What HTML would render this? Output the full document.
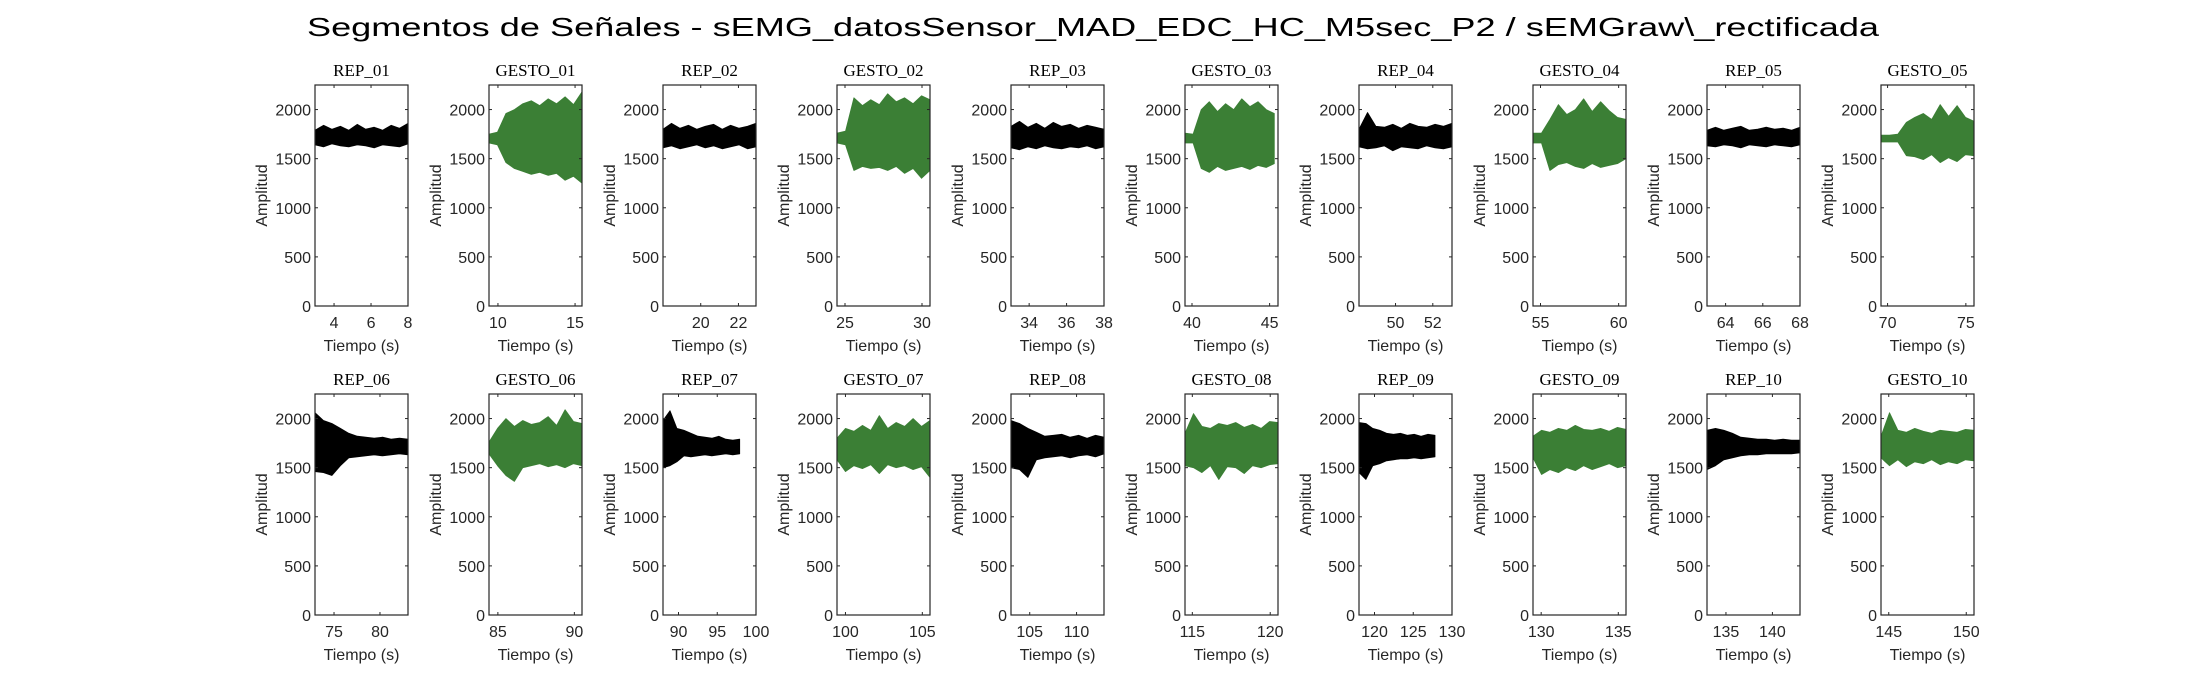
<!DOCTYPE html>
<html><head><meta charset="utf-8"><style>
html,body{margin:0;padding:0;background:#fff;}
svg{display:block;}
</style></head><body>
<svg id="fig" width="2187" height="688" xmlns="http://www.w3.org/2000/svg">
<text x="1093" y="36" text-anchor="middle" font-family="Liberation Sans, sans-serif" font-size="26" fill="#000" textLength="1572" lengthAdjust="spacingAndGlyphs">Segmentos de Señales - sEMG_datosSensor_MAD_EDC_HC_M5sec_P2 / sEMGraw\_rectificada</text>
</svg>
<script>
const panelTitles = ["REP_01","GESTO_01","REP_02","GESTO_02","REP_03","GESTO_03","REP_04","GESTO_04","REP_05","GESTO_05",
 "REP_06","GESTO_06","REP_07","GESTO_07","REP_08","GESTO_08","REP_09","GESTO_09","REP_10","GESTO_10"];
const xMins = [2.97,9.42,18.0,24.48,33.03,39.55,48.04,54.52,63.0,69.58, 72.93,84.42,88.0,99.45,103.0,114.53,118.0,129.47,132.96,144.5];
const xMaxs = [8,15.45,22.93,30.52,38,45.54,53.03,60.47,68,75.52, 83.05,90.5,100,105.5,112.93,120.5,130,135.5,142.97,150.5];
const xTicks = [[4,6,8],[10,15],[20,22],[25,30],[34,36,38],[40,45],[50,52],[55,60],[64,66,68],[70,75],
 [75,80],[85,90],[90,95,100],[100,105],[105,110],[115,120],[120,125,130],[130,135],[135,140],[145,150]];
const yTicks = [0,500,1000,1500,2000];
const dataStart = [2.97,9.42,18.0,24.48,33.03,39.55,48.04,54.52,63.0,69.58, 72.93,84.42,88.0,99.45,103.0,114.53,118.0,129.47,132.96,144.5];
const dataEnd = [8,15.45,22.93,30.52,38,45.3,53.03,60.47,68,75.52, 83.05,90.5,97.9,105.5,112.93,120.5,127.8,135.5,142.97,150.5];
const hiVals = [
 [1790,1840,1800,1830,1790,1850,1800,1820,1790,1840,1810,1860],
 [1750,1770,1960,2000,2060,2090,2040,2110,2060,2130,2050,2180],
 [1800,1860,1810,1840,1800,1830,1850,1800,1840,1810,1830,1860],
 [1760,1780,2120,2040,2100,2050,2160,2080,2120,2060,2140,2100],
 [1830,1880,1820,1860,1810,1870,1830,1850,1810,1840,1820,1800],
 [1760,1750,2000,2080,1980,2060,2000,2110,2030,2080,2000,1960],
 [1800,1970,1830,1820,1850,1810,1860,1830,1820,1850,1830,1860],
 [1760,1760,1900,2050,1950,2000,2110,1980,2080,1990,1920,1900],
 [1790,1820,1790,1810,1830,1790,1800,1820,1800,1810,1790,1820],
 [1740,1740,1750,1870,1920,1960,1900,2050,1930,2040,1920,1880],
 [2060,1980,1950,1900,1850,1820,1810,1800,1810,1790,1800,1790],
 [1760,1900,2000,1920,1980,1940,1960,2020,1930,2090,1970,1950],
 [1980,2080,1900,1880,1850,1820,1810,1800,1820,1790,1780,1790],
 [1800,1900,1870,1930,1880,2030,1900,1960,1920,2000,1920,1980],
 [1980,1950,1900,1860,1820,1830,1840,1810,1830,1800,1830,1810],
 [1850,2050,1920,1900,1950,1930,1960,1910,1940,1900,1970,1960],
 [1960,1950,1900,1880,1850,1840,1850,1830,1840,1820,1840,1830],
 [1820,1880,1860,1900,1880,1930,1890,1880,1900,1870,1910,1890],
 [1880,1900,1880,1850,1810,1800,1790,1790,1780,1790,1780,1780],
 [1820,2060,1880,1860,1900,1870,1850,1880,1870,1860,1890,1880]];
const loVals = [
 [1640,1620,1650,1630,1620,1640,1630,1610,1640,1630,1620,1650],
 [1660,1640,1460,1400,1370,1340,1360,1330,1350,1280,1320,1250],
 [1610,1630,1600,1620,1640,1610,1630,1600,1620,1640,1600,1620],
 [1660,1640,1380,1420,1400,1410,1380,1420,1350,1400,1300,1380],
 [1610,1590,1620,1600,1630,1610,1600,1620,1610,1630,1600,1620],
 [1660,1660,1400,1360,1420,1380,1400,1420,1390,1430,1410,1450],
 [1620,1600,1610,1630,1580,1620,1610,1600,1630,1610,1600,1620],
 [1660,1660,1380,1440,1460,1420,1400,1450,1410,1430,1450,1500],
 [1630,1620,1640,1630,1610,1640,1630,1620,1640,1630,1620,1640],
 [1670,1670,1670,1530,1520,1490,1540,1460,1510,1470,1540,1530],
 [1460,1450,1420,1520,1600,1610,1620,1630,1620,1630,1640,1630],
 [1640,1520,1420,1360,1500,1520,1540,1510,1530,1500,1540,1520],
 [1500,1520,1560,1620,1610,1620,1630,1620,1630,1640,1630,1640],
 [1580,1460,1520,1490,1530,1440,1530,1500,1520,1480,1510,1400],
 [1500,1480,1400,1580,1600,1610,1620,1600,1620,1630,1610,1640],
 [1520,1500,1450,1520,1380,1510,1500,1440,1520,1500,1530,1540],
 [1450,1380,1520,1540,1570,1580,1590,1590,1600,1590,1600,1610],
 [1600,1430,1480,1450,1500,1470,1520,1480,1510,1540,1500,1520],
 [1480,1520,1580,1600,1620,1630,1630,1640,1640,1640,1640,1650],
 [1600,1520,1580,1510,1560,1540,1580,1530,1560,1540,1580,1570]];

const NS = "http://www.w3.org/2000/svg";
const svg = document.getElementById('fig');
const Y_MAX = 2250, PW = 93, PH = 221;
const colLeft = c => 315 + c * 174;
const rowTop = r => r === 0 ? 85 : 394;
function mk(tag, attrs, parent){ const e = document.createElementNS(NS, tag); for (const k in attrs) e.setAttribute(k, attrs[k]); (parent||svg).appendChild(e); return e; }
const FONT = "Liberation Sans, sans-serif";

panelTitles.forEach((title, i) => {
  const r = Math.floor(i / 10), c = i % 10;
  const L = colLeft(c), T = rowTop(r), B = T + PH, R = L + PW;
  const xs = v => L + (v - xMins[i]) / (xMaxs[i] - xMins[i]) * PW;
  const ys = v => B - v / Y_MAX * PH;
  const g = mk('g', {});
  
  
  const green = title.startsWith('GESTO');
  const col = green ? '#3b7f35' : '#000';
  // signal envelope
  const hi = hiVals[i], lo = loVals[i], n = hi.length;
  const t = k => dataStart[i] + (dataEnd[i] - dataStart[i]) * k / (n - 1);
  let pts = [];
  for (let k = 0; k < n; k++) pts.push(xs(t(k)).toFixed(1) + ',' + ys(hi[k]).toFixed(1));
  for (let k = n - 1; k >= 0; k--) pts.push(xs(t(k)).toFixed(1) + ',' + ys(lo[k]).toFixed(1));
  const sig = mk('polygon', {points: pts.join(' '), fill: col, stroke: col, 'stroke-width': 0.8, 'stroke-linejoin': 'round'}, g);
  
  
  // axes box
  const box = mk('rect', {x: L, y: T, width: PW, height: PH, fill: 'none', stroke: '#262626', 'stroke-width': 1.2}, g);
  
  
  // y ticks
  yTicks.forEach(v => {
    const y = ys(v);
    mk('line', {x1: L, x2: L + 3, y1: y, y2: y, stroke: '#262626'}, g);
    mk('line', {x1: R, x2: R - 3, y1: y, y2: y, stroke: '#262626'}, g);
    const tl = mk('text', {x: L - 4, y: y + 6, 'text-anchor': 'end', 'font-family': FONT, 'font-size': 16, fill: '#262626'}, g);
    tl.textContent = v;
    
    
  });
  xTicks[i].forEach(v => {
    const x = xs(v);
    mk('line', {x1: x, x2: x, y1: B, y2: B - 3, stroke: '#262626'}, g);
    mk('line', {x1: x, x2: x, y1: T, y2: T + 3, stroke: '#262626'}, g);
    const tl = mk('text', {x: x, y: B + 22, 'text-anchor': 'middle', 'font-family': FONT, 'font-size': 16, fill: '#262626'}, g);
    tl.textContent = v;
    
    
  });
  const xl = mk('text', {x: L + PW / 2, y: B + 45, 'text-anchor': 'middle', 'font-family': FONT, 'font-size': 16, fill: '#262626'}, g);
  xl.textContent = 'Tiempo (s)';
  
  
  const yl = mk('text', {x: 0, y: 0, transform: 'translate(' + (L - 48) + ',' + (T + PH / 2) + ') rotate(-90)', 'text-anchor': 'middle', 'font-family': FONT, 'font-size': 16, fill: '#262626'}, g);
  yl.textContent = 'Amplitud';
  
  
  const pt = mk('text', {x: L + PW / 2, y: T - 9, 'text-anchor': 'middle', 'font-family': 'Liberation Serif, serif', 'font-size': 17, fill: '#000'}, g);
  pt.textContent = title;
  
  
});
</script>
</body></html>
